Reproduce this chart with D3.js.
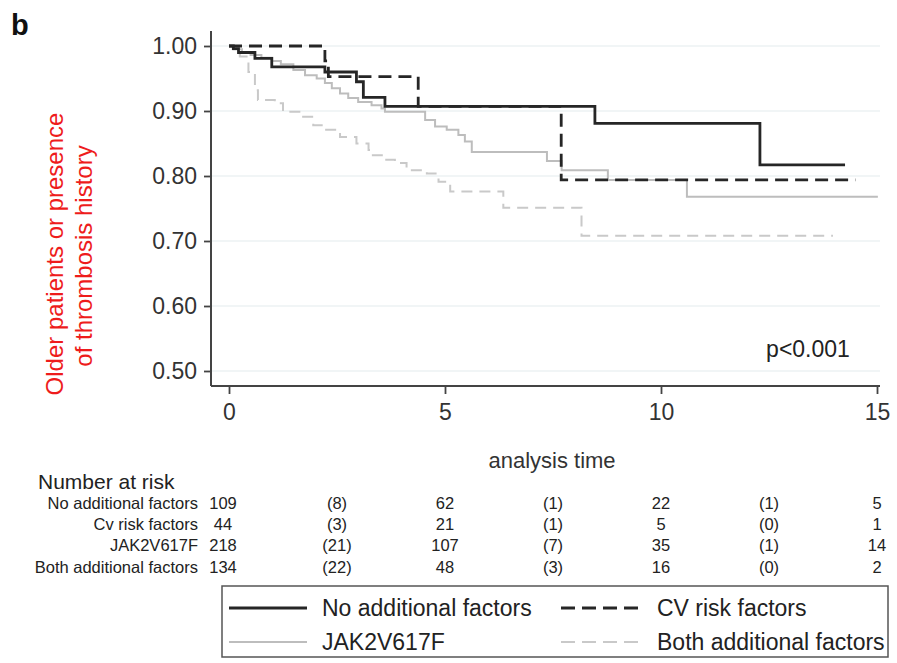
<!DOCTYPE html>
<html>
<head>
<meta charset="utf-8">
<script src="https://cdn.jsdelivr.net/npm/d3@7"></script>
<style>
  html, body { margin: 0; padding: 0; background: #fff; }
  svg { display: block; font-family: "Liberation Sans", Arial, sans-serif; }
</style>
</head>
<body>
<svg id="chart" width="897" height="663"></svg>
<script>
// Kaplan-Meier step curves: event times (years) and survival estimates
const seriesNames = ["No additional factors", "CV risk factors", "JAK2V617F", "Both additional factors"];

const noAddTime = [0, 0.1, 0.22, 0.6, 0.99, 2.22, 2.95, 3.11, 3.61, 8.47, 12.29, 14.26];
const noAddSurv = [1, 0.996, 0.99, 0.981, 0.968, 0.96, 0.945, 0.921, 0.907, 0.881, 0.817, 0.817];

const cvTime = [0, 2.22, 2.30, 4.38, 7.69, 14.5];
const cvSurv = [1, 0.977, 0.953, 0.907, 0.794, 0.794];

const jakTime = [0, 0.1, 0.3, 0.5, 0.75, 1.0, 1.2, 1.49, 1.76, 2.03, 2.22, 2.38, 2.57, 2.76, 2.99, 3.3, 3.53, 3.61, 4.54, 4.77, 5.04, 5.31, 5.46, 5.62, 7.36, 7.7, 8.77, 10.6, 15.02];
const jakSurv = [1, 0.995, 0.99, 0.986, 0.982, 0.977, 0.972, 0.963, 0.955, 0.95, 0.943, 0.935, 0.927, 0.92, 0.914, 0.909, 0.904, 0.899, 0.886, 0.876, 0.871, 0.863, 0.853, 0.837, 0.823, 0.809, 0.794, 0.768, 0.768];

const bothTime = [0, 0.1, 0.25, 0.45, 0.6, 0.67, 1.06, 1.25, 1.68, 1.95, 2.22, 2.57, 2.95, 3.23, 3.33, 3.61, 3.84, 4.11, 4.58, 4.85, 5.12, 6.35, 8.16, 13.98];
const bothSurv = [1, 0.995, 0.984, 0.96, 0.932, 0.917, 0.912, 0.899, 0.891, 0.878, 0.871, 0.86, 0.85, 0.84, 0.832, 0.825, 0.82, 0.809, 0.804, 0.791, 0.776, 0.751, 0.708, 0.708];

// Axis ticks
const yTicks = [0.5, 0.6, 0.7, 0.8, 0.9, 1.0];
const xTicks = [0, 5, 10, 15];

// Number-at-risk table
const riskTimes = [0, 2.5, 5, 7.5, 10, 12.5, 15];
const riskLabels = ["No additional factors", "Cv risk factors", "JAK2V617F", "Both additional factors"];
const riskNoAdd = ["109", "(8)", "62", "(1)", "22", "(1)", "5"];
const riskCv = ["44", "(3)", "21", "(1)", "5", "(0)", "1"];
const riskJak = ["218", "(21)", "107", "(7)", "35", "(1)", "14"];
const riskBoth = ["134", "(22)", "48", "(3)", "16", "(0)", "2"];

const styles = [
  { stroke: "#262626", width: 2.8, dash: null },
  { stroke: "#262626", width: 2.8, dash: "13,7" },
  { stroke: "#bdbdbd", width: 2, dash: null },
  { stroke: "#c9c9c9", width: 2, dash: "11,7" }
];

const svg = d3.select("#chart");
const x = d3.scaleLinear().domain([0, 15]).range([229, 877]);
const y = d3.scaleLinear().domain([0.5, 1.0]).range([371, 46]);

const axisX0 = 211, axisY0 = 386;

// Panel letter
svg.append("text").attr("x", 11).attr("y", 35)
  .attr("font-size", 29).attr("font-weight", "bold").attr("fill", "#111").text("b");

// Gridlines
svg.append("g").selectAll("line").data(yTicks).join("line")
  .attr("x1", axisX0 + 1).attr("x2", 880)
  .attr("y1", d => y(d)).attr("y2", d => y(d))
  .attr("stroke", "#e4ebee").attr("stroke-width", 1.2);

// Y axis
const yAxis = d3.axisLeft(y).tickValues(yTicks).tickFormat(d3.format(".2f")).tickSize(7).tickPadding(7);
const gy = svg.append("g").attr("transform", `translate(${axisX0},0)`).call(yAxis);
gy.select(".domain").remove();
gy.append("line").attr("x1", 0).attr("x2", 0).attr("y1", 31).attr("y2", axisY0).attr("stroke", "#444").attr("stroke-width", 2);
gy.selectAll(".tick line").attr("stroke", "#444").attr("stroke-width", 1.8);
gy.selectAll(".tick text").attr("font-size", 23).attr("fill", "#333")
  .attr("font-family", "Liberation Sans, Arial, sans-serif");

// X axis
const xAxis = d3.axisBottom(x).tickValues(xTicks).tickFormat(d3.format("d")).tickSize(8).tickPadding(10);
const gx = svg.append("g").attr("transform", `translate(0,${axisY0})`).call(xAxis);
gx.select(".domain").remove();
gx.append("line").attr("x1", axisX0).attr("x2", 880).attr("y1", 0).attr("y2", 0).attr("stroke", "#444").attr("stroke-width", 2);
gx.selectAll(".tick line").attr("stroke", "#444").attr("stroke-width", 1.8);
gx.selectAll(".tick text").attr("font-size", 23).attr("fill", "#333")
  .attr("font-family", "Liberation Sans, Arial, sans-serif");

svg.append("text").attr("x", 552).attr("y", 468).attr("text-anchor", "middle")
  .attr("font-size", 22).attr("fill", "#333").text("analysis time");

// Y axis title (red, two lines)
const yTitle = ["Older patients or presence", "of thrombosis history"];
const yTitleX = [63, 92], yTitleY = [254, 256];
yTitle.forEach((t, i) => {
  svg.append("text")
    .attr("transform", `translate(${yTitleX[i]},${yTitleY[i]}) rotate(-90)`)
    .attr("text-anchor", "middle").attr("font-size", 24).attr("fill", "#ee1c1c").text(t);
});

// Survival curves
const curveData = [
  noAddTime.map((t, i) => [t, noAddSurv[i]]),
  cvTime.map((t, i) => [t, cvSurv[i]]),
  jakTime.map((t, i) => [t, jakSurv[i]]),
  bothTime.map((t, i) => [t, bothSurv[i]])
];
const line = d3.line().x(d => x(d[0])).y(d => y(d[1])).curve(d3.curveStepAfter);
const drawOrder = [3, 2, 1, 0];
drawOrder.forEach(k => {
  svg.append("path").datum(curveData[k]).attr("d", line)
    .attr("fill", "none").attr("stroke", styles[k].stroke)
    .attr("stroke-width", styles[k].width)
    .attr("stroke-dasharray", styles[k].dash);
});

// p-value
svg.append("text").attr("x", 808).attr("y", 357).attr("text-anchor", "middle")
  .attr("font-size", 23).attr("fill", "#222").text("p<0.001");

// Number at risk table
svg.append("text").attr("x", 38).attr("y", 489).attr("font-size", 21).attr("fill", "#222").text("Number at risk");
const riskRows = [riskNoAdd, riskCv, riskJak, riskBoth];
const rowY = [509, 530, 551, 573];
riskRows.forEach((row, r) => {
  svg.append("text").attr("x", 198).attr("y", rowY[r]).attr("text-anchor", "end")
    .attr("font-size", 16.5).attr("fill", "#222").text(riskLabels[r]);
  svg.append("g").selectAll("text").data(row).join("text")
    .attr("x", (d, i) => i === 0 ? x(riskTimes[i]) - 6 : x(riskTimes[i]))
    .attr("y", rowY[r]).attr("text-anchor", "middle")
    .attr("font-size", 16.5).attr("fill", "#222").text(d => d);
});

// Legend
const lg = svg.append("g");
lg.append("rect").attr("x", 222).attr("y", 586).attr("width", 666).attr("height", 71)
  .attr("fill", "#fff").attr("stroke", "#555").attr("stroke-width", 1.5);
const legendPos = [
  { sx: 229, tx: 322, y: 608 },
  { sx: 561, tx: 657, y: 608 },
  { sx: 229, tx: 322, y: 642 },
  { sx: 561, tx: 657, y: 642 }
];
seriesNames.forEach((name, k) => {
  const p = legendPos[k];
  lg.append("line").attr("x1", p.sx).attr("x2", p.sx + 78).attr("y1", p.y).attr("y2", p.y)
    .attr("stroke", styles[k].stroke).attr("stroke-width", styles[k].width)
    .attr("stroke-dasharray", styles[k].dash ? "14,7" : null);
  lg.append("text").attr("x", p.tx).attr("y", p.y + 8).attr("font-size", 23)
    .attr("fill", "#222").text(name);
});
</script>
</body>
</html>
